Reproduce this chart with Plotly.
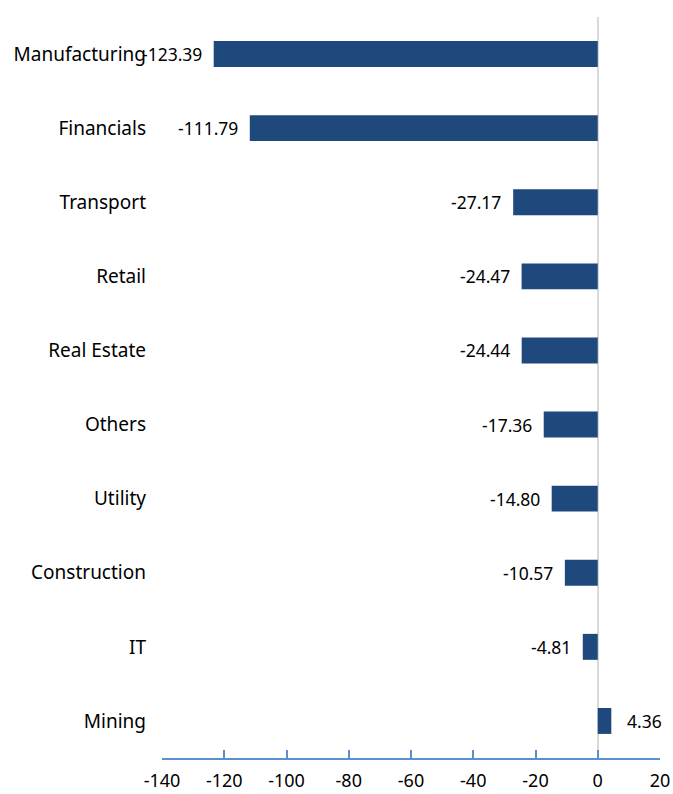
import plotly.graph_objects as go

categories = ["Manufacturing", "Financials", "Transport", "Retail", "Real Estate",
              "Others", "Utility", "Construction", "IT", "Mining"]
values = [-123.39, -111.79, -27.17, -24.47, -24.44, -17.36, -14.80, -10.57, -4.81, 4.36]
x_ticks = [-140, -120, -100, -80, -60, -40, -20, 0, 20]

BAR = "#1F497D"
AXIS = "#5B8FD0"
FONT = "Noto Sans"

fig = go.Figure(go.Bar(
    x=values, y=categories, orientation="h",
    marker=dict(color=BAR, line=dict(width=0)),
    width=0.35,
    hoverinfo="x+y",
))

for c, v in zip(categories, values):
    fig.add_annotation(
        x=v, y=c, text=f"{v:.2f}", showarrow=False,
        xanchor="right" if v < 0 else "left",
        xshift=-10 if v < 0 else 14,
        font=dict(family=FONT, size=17.5, color="#000000"),
    )

fig.update_layout(
    width=673, height=794,
    margin=dict(l=162, r=13, t=17, b=36),
    paper_bgcolor="white", plot_bgcolor="white",
    showlegend=False,
    font=dict(family=FONT, size=18, color="#000000"),
    xaxis=dict(
        range=[-140, 20], tickvals=x_ticks, ticktext=[str(t) for t in x_ticks],
        showgrid=False, automargin=False,
        zeroline=True, zerolinecolor="#D9D9D9", zerolinewidth=2,
        showline=True, linecolor=AXIS, linewidth=1.5,
        ticks="inside", ticklen=8, tickcolor=AXIS, tickwidth=1.5,
        tickfont=dict(family=FONT, size=18),
        ticklabelstandoff=6,
        layer="above traces",
    ),
    yaxis=dict(
        autorange="reversed", automargin=False,
        showgrid=False, showline=False, zeroline=False,
        ticks="", ticklabelstandoff=15,
        tickfont=dict(family=FONT, size=19),
    ),
)

fig.write_html(
    "out.html",
    config={"displayModeBar": False},
    post_script="document.body.style.margin='0';document.body.style.overflow='hidden';",
)
